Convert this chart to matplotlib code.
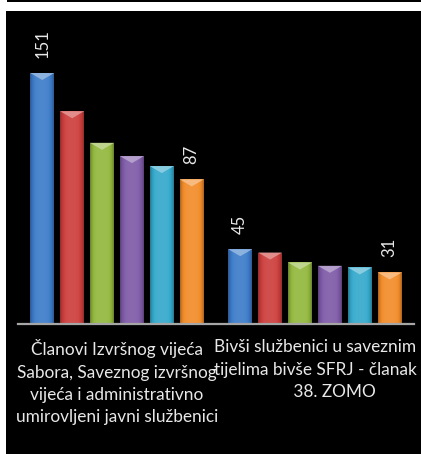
import numpy as np
import matplotlib.pyplot as plt
from matplotlib.patches import Rectangle, Polygon
from matplotlib.colors import to_rgb

# categories (x axis) and six series of values
categories = [
    "Članovi Izvršnog vijeća\nSabora, Saveznog izvršnog\nvijeća i administrativno\numirovljeni javni službenici",
    "Bivši službenici u saveznim\ntijelima bivše SFRJ - članak\n         38. ZOMO",
]
series_values = [
    [151, 45],
    [128, 43],
    [109, 37],
    [101, 35],
    [95, 34],
    [87, 31],
]
labeled_series = [0, 5]

colors = ['#3d7cc9', '#cc3f3d', '#93b83f', '#7f5ba8', '#35a9cc', '#f28c2a']

W, H = 421, 454
fig = plt.figure(figsize=(W / 100, H / 100), dpi=100, facecolor='white')

# black panel and the thin black line on top
fig.patches.append(Rectangle((6 / W, 0), 1, (H - 11) / H, transform=fig.transFigure,
                             facecolor='black', edgecolor='none', zorder=-5))
fig.patches.append(Rectangle((7 / W, (H - 2) / H), 1, 2 / H, transform=fig.transFigure,
                             facecolor='black', edgecolor='none', zorder=-5))

ax = fig.add_axes([18 / W, (H - 324) / H, 396 / W, 313 / H])
ax.set_facecolor('none')

x = np.arange(len(categories))
pitch = 0.151
width = 0.121
n = len(series_values)
ymax = 188.3
px_per_unit = 313 / ymax


def shade(c, f):
    r = np.array(to_rgb(c))
    if f >= 1:
        return tuple(r + (1 - r) * (f - 1))
    return tuple(r * f)


for i, vals in enumerate(series_values):
    bars = ax.bar(x + (i - (n - 1) / 2) * pitch, vals, width, color=colors[i], zorder=2)
    for b in bars:
        x0, x1 = b.get_x(), b.get_x() + b.get_width()
        top = b.get_height()
        # horizontal gradient, darker at the sides
        t = np.linspace(-1, 1, 40)
        fac = 1.08 - 0.35 * t ** 4
        img = np.array([[shade(colors[i], f) for f in fac]])
        im = ax.imshow(img, extent=(x0, x1, 0, top), aspect='auto', zorder=3,
                       interpolation='bilinear')
        im.set_clip_path(b)
        # light bevel at the top
        d = 7 / px_per_unit
        ax.add_patch(Polygon([(x0, top), (x1, top), ((x0 + x1) / 2, top - d)],
                             closed=True, facecolor=shade(colors[i], 1.45),
                             edgecolor='none', alpha=0.9, zorder=4))
        if i in labeled_series:
            ax.annotate(f"{top:g}", ((x0 + x1) / 2, top), xytext=(0, 11),
                        textcoords='offset points', ha='center', va='bottom',
                        rotation=90, color='#e8e8e8', fontsize=12, family='Lato')

ax.set_xlim(-0.5, len(categories) - 0.5)
ax.set_ylim(0, ymax)
ax.set_xticks(x, categories)
ax.tick_params(axis='x', length=0, pad=11, labelsize=12.4, labelcolor='#e8e8e8')
for lbl in ax.get_xticklabels():
    lbl.set_family('Lato')
    lbl.set_linespacing(1.48)
ax.set_yticks([])
for s in ['top', 'left', 'right']:
    ax.spines[s].set_visible(False)
ax.spines['bottom'].set_color('#a6a6a6')
ax.spines['bottom'].set_linewidth(1.6)
ax.spines['bottom'].set_zorder(5)

fig.savefig('out.png', dpi=100, facecolor=fig.get_facecolor())
